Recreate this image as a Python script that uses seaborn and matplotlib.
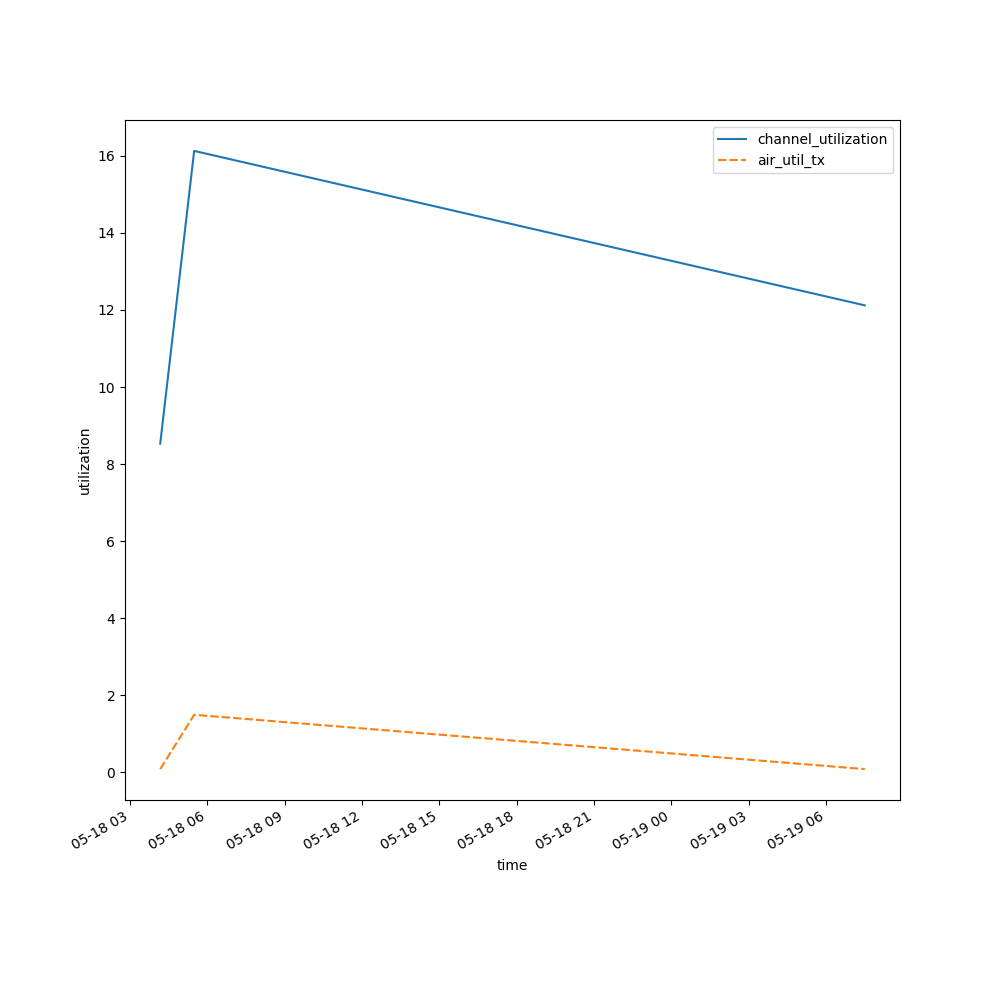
import pandas as pd
import matplotlib
matplotlib.use('Agg')
import matplotlib.pyplot as plt
import seaborn as sns

times = ['2024-05-18 04:10', '2024-05-18 05:29', '2024-05-19 07:30']
channel_utilization = [8.53, 16.13, 12.12]
air_util_tx = [0.08, 1.49, 0.08]

df = pd.DataFrame({'channel_utilization': channel_utilization,
                   'air_util_tx': air_util_tx},
                  index=pd.to_datetime(times))
df.index.name = 'time'

fig, ax = plt.subplots(figsize=(10, 10))
sns.lineplot(data=df, ax=ax)
ax.set_ylabel('utilization')
fig.autofmt_xdate()
plt.savefig('out.png', dpi=100)
